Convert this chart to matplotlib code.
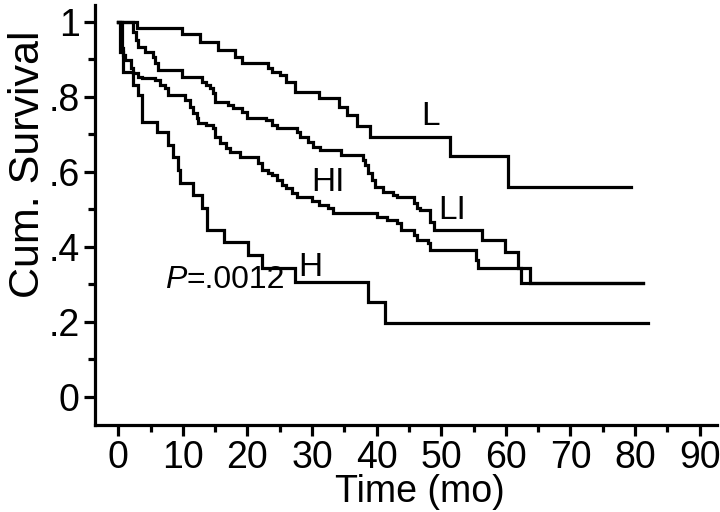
import matplotlib
matplotlib.use("Agg")
import matplotlib.pyplot as plt
from matplotlib.ticker import MultipleLocator

plt.rcParams['font.family'] = ['Liberation Sans', 'DejaVu Sans']

# Survival curves (time in months, cumulative survival)
L_t = [0, 2.9, 9.9, 12.7, 15.5, 18.1, 19.2, 23.1, 23.8, 25.1, 25.9, 27.4, 31.0, 34.1, 35.4, 37.0, 39.0, 51.4, 60.4, 79.3]
L_s = [1.0, 0.984, 0.968, 0.947, 0.925, 0.907, 0.891, 0.877, 0.867, 0.859, 0.84, 0.813, 0.797, 0.773, 0.752, 0.723, 0.693, 0.643, 0.56, 0.56]

LI_t = [0, 2.2, 2.8, 3.1, 4.2, 5.3, 5.7, 6.2, 9.9, 13.0, 13.5, 14.2, 14.7, 15.0, 17.0, 17.8, 19.2, 20.0, 22.8, 23.8,
        24.6, 27.7, 28.2, 29.3, 30.2, 31.3, 34.4, 37.9, 38.2, 38.7, 39.3, 39.8, 40.9, 42.6, 43.2, 45.7, 46.3, 46.7,
        48.3, 48.8, 56.3, 59.9, 61.8, 63.8, 81.3]
LI_s = [1.0, 0.973, 0.952, 0.933, 0.92, 0.907, 0.891, 0.872, 0.853, 0.84, 0.832, 0.824, 0.811, 0.787, 0.779, 0.771,
        0.76, 0.744, 0.739, 0.725, 0.717, 0.707, 0.693, 0.68, 0.667, 0.659, 0.645, 0.632, 0.619, 0.597, 0.579, 0.56,
        0.547, 0.539, 0.533, 0.517, 0.504, 0.499, 0.467, 0.445, 0.419, 0.387, 0.344, 0.304, 0.304]

HI_t = [0, 0.5, 0.6, 0.8, 1.1, 1.9, 2.3, 3.1, 3.7, 5.7, 6.5, 7.3, 7.7, 10.4, 11.1, 11.6, 12.2, 12.4, 13.5, 14.6,
        15.0, 15.8, 16.6, 17.3, 18.9, 21.7, 22.3, 23.1, 23.8, 24.6, 25.4, 25.9, 26.9, 27.7, 30.0, 31.0, 32.4, 33.3,
        40.1, 41.6, 43.2, 43.7, 45.7, 46.3, 48.0, 48.3, 55.3, 55.7, 62.4, 81.3]
HI_s = [1.0, 0.952, 0.931, 0.912, 0.899, 0.877, 0.864, 0.853, 0.851, 0.845, 0.832, 0.824, 0.805, 0.792, 0.773,
        0.757, 0.744, 0.731, 0.725, 0.717, 0.693, 0.677, 0.664, 0.653, 0.64, 0.624, 0.605, 0.597, 0.592, 0.579,
        0.565, 0.557, 0.544, 0.533, 0.523, 0.512, 0.504, 0.491, 0.48, 0.472, 0.464, 0.445, 0.432, 0.419, 0.411,
        0.392, 0.365, 0.344, 0.304, 0.304]

H_t = [0, 0.3, 0.7, 2.3, 3.1, 3.7, 6.0, 7.7, 8.5, 9.3, 9.6, 11.6, 13.0, 13.8, 16.3, 20.1, 22.3, 27.4, 38.7, 41.3, 82.0]
H_s = [1.0, 0.92, 0.867, 0.832, 0.805, 0.733, 0.707, 0.672, 0.64, 0.605, 0.571, 0.539, 0.504, 0.445, 0.413, 0.379,
       0.344, 0.307, 0.253, 0.197, 0.197]

curve_labels = ["L", "HI", "LI", "H"]
label_pos_t = [48.3, 32.4, 51.7, 29.7]
label_pos_s = [0.747, 0.571, 0.496, 0.344]
p_letter = "P"
p_text = "=.0012"

x_ticks = [0, 10, 20, 30, 40, 50, 60, 70, 80, 90]
y_ticks = [0, 0.2, 0.4, 0.6, 0.8, 1.0]
y_tick_labels = ["0", ".2", ".4", ".6", ".8", "1"]

fig = plt.figure(figsize=(7.2, 5.12), dpi=100)
ax = fig.add_axes([0.132, 0.170, 0.864, 0.820])

lw = 2.3
for t, s in [(L_t, L_s), (LI_t, LI_s), (HI_t, HI_s), (H_t, H_s)]:
    ax.step(t, s, where='post', color='black', lw=lw, solid_joinstyle='miter')

ax.set_xlim(-3.6, 92.7)
ax.set_ylim(-0.075, 1.045)

for side in ['top', 'right']:
    ax.spines[side].set_visible(False)
for side in ['left', 'bottom']:
    ax.spines[side].set_linewidth(2.3)

ax.set_xticks(x_ticks)
ax.set_xticklabels([str(v) for v in x_ticks])
ax.xaxis.set_minor_locator(MultipleLocator(5))
ax.set_yticks(y_ticks)
ax.set_yticklabels(y_tick_labels)
ax.yaxis.set_minor_locator(MultipleLocator(0.1))
ax.tick_params(which='major', direction='out', length=8, width=2.3, labelsize=27, pad=3)
ax.tick_params(which='minor', direction='out', length=5, width=2.3)

ax.set_xlabel("Time (mo)", fontsize=27, va='baseline')
ax.xaxis.set_label_coords(0.5225, -0.184)
ax.set_ylabel("Cum. Survival", fontsize=31)
ax.yaxis.set_label_coords(-0.075, 0.621)

for lab, tx, sy in zip(curve_labels, label_pos_t, label_pos_s):
    ax.text(tx, sy, lab, fontsize=24, ha='center', va='center')

pt = ax.text(7.3, 0.312, p_letter, fontsize=23, style='italic', ha='left', va='center')
fig.canvas.draw()
bb = pt.get_window_extent()
x_end = ax.transData.inverted().transform((bb.x1, 0))[0]
ax.text(x_end, 0.312, p_text, fontsize=23, ha='left', va='center')

fig.savefig("out.png", dpi=100)
